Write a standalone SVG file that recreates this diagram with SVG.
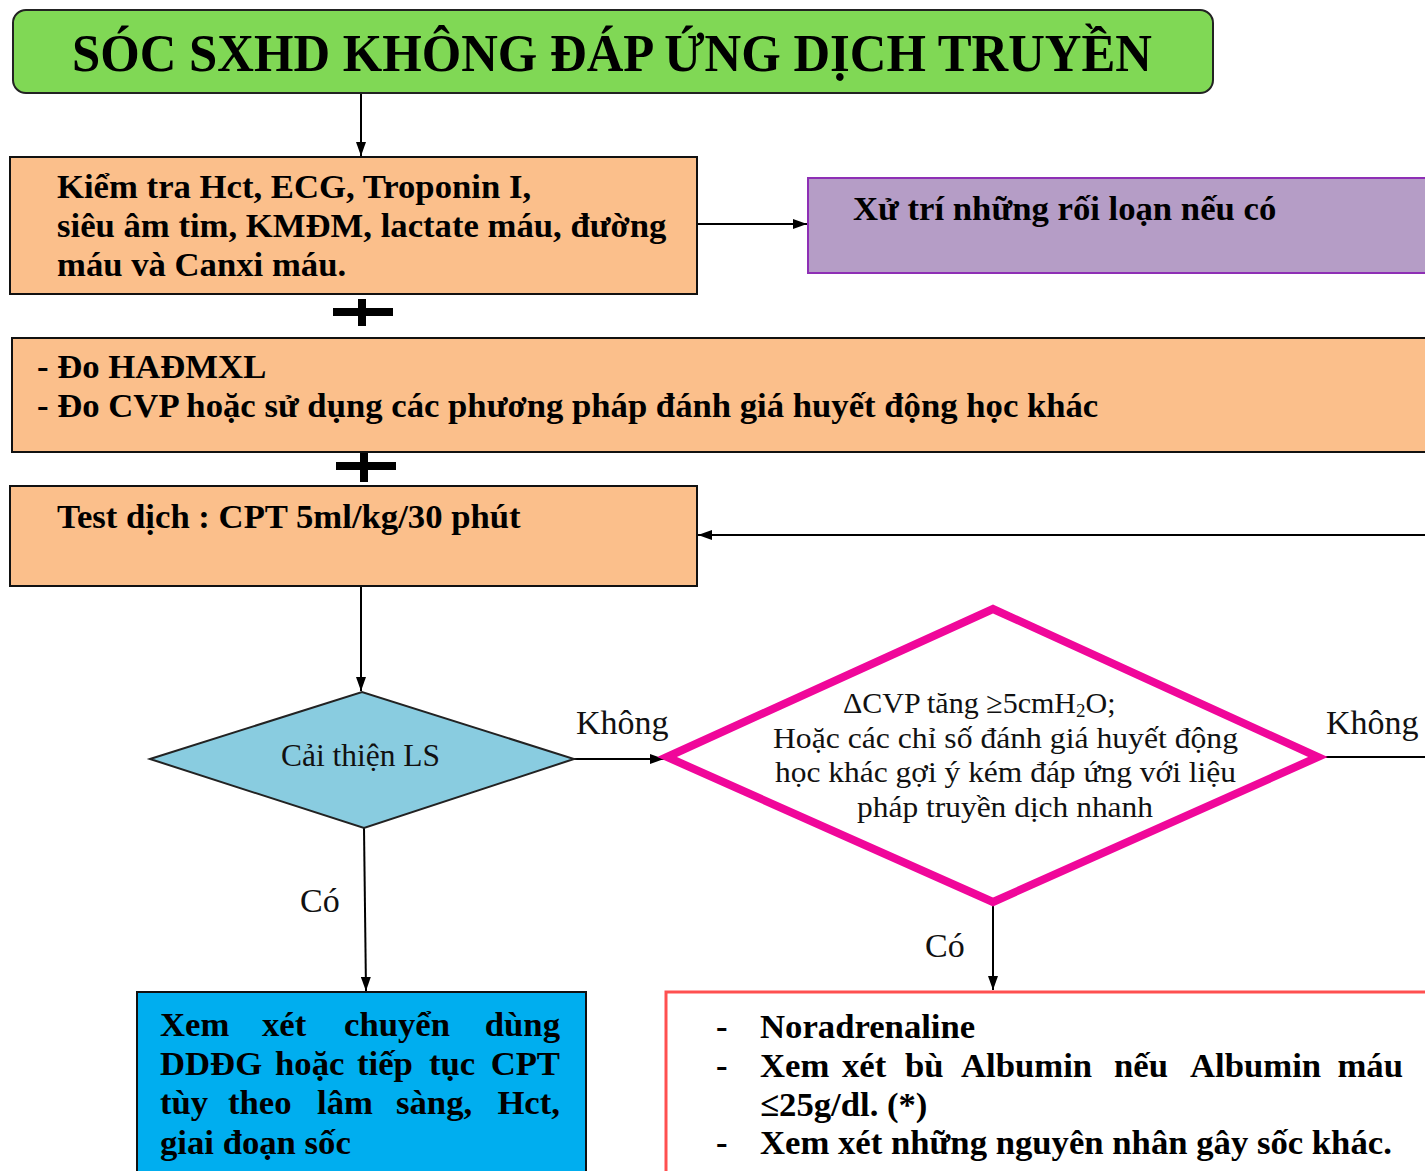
<svg xmlns="http://www.w3.org/2000/svg" width="1425" height="1171" viewBox="0 0 1425 1171">
  <defs>
    <marker id="arrow" viewBox="0 0 14 10" refX="14" refY="5" markerWidth="14" markerHeight="10" markerUnits="userSpaceOnUse" orient="auto">
      <path d="M0,0 L14,5 L0,10 z" fill="#000"/>
    </marker>
    <style>
      .b { font-family: "Liberation Serif", "Times New Roman", serif; font-weight: bold; fill: #000; font-size: 34.7px; }
      .n { font-family: "Liberation Serif", "Times New Roman", serif; fill: #111; }
      .lbl { font-size: 34px; }
      .end { text-anchor: end; }
      .line { stroke: #000; stroke-width: 2; fill: none; }
      .box { stroke: #111; stroke-width: 2; }
    </style>
  </defs>

  <rect width="1425" height="1171" fill="#fff"/>

  <!-- connectors -->
  <g id="connectors">
    <line class="line" x1="361" y1="93" x2="361" y2="156" marker-end="url(#arrow)"/>
    <line class="line" x1="697" y1="224" x2="807" y2="224" marker-end="url(#arrow)"/>
    <line class="line" x1="1425" y1="535" x2="698" y2="535" marker-end="url(#arrow)"/>
    <line class="line" x1="361" y1="586" x2="361" y2="691" marker-end="url(#arrow)"/>
    <line class="line" x1="574" y1="759" x2="664" y2="759" marker-end="url(#arrow)"/>
    <line class="line" x1="1322" y1="757" x2="1425" y2="757"/>
    <line class="line" x1="364" y1="828" x2="366" y2="991" marker-end="url(#arrow)"/>
    <line class="line" x1="993" y1="905" x2="993" y2="990" marker-end="url(#arrow)"/>
    <!-- plus signs joining the test boxes -->
    <g fill="#000">
      <rect x="333" y="308" width="60" height="8"/>
      <rect x="358" y="299" width="8" height="27"/>
      <rect x="336" y="462" width="60" height="8"/>
      <rect x="360" y="452" width="8" height="30"/>
    </g>
    <text class="n lbl" x="576" y="734">Không</text>
    <text class="n lbl" x="1326" y="734">Không</text>
    <text class="n lbl" x="300" y="912">Có</text>
    <text class="n lbl" x="925" y="957">Có</text>
  </g>

  <!-- title -->
  <g id="title">
    <rect x="13" y="10" width="1200" height="83" rx="13" fill="#80d855" stroke="#222" stroke-width="2"/>
    <text class="b" x="72" y="71" style="font-size:52px" textLength="1080" lengthAdjust="spacingAndGlyphs">SÓC SXHD KHÔNG ĐÁP ỨNG DỊCH TRUYỀN</text>
  </g>

  <!-- lab checks -->
  <g id="checks">
    <rect class="box" x="10" y="157" width="687" height="137" fill="#fbbf8b"/>
    <text class="b">
      <tspan x="57" y="198">Kiểm tra Hct, ECG, Troponin I,</tspan>
      <tspan x="57" y="237">siêu âm tim, KMĐM, lactate máu, đường</tspan>
      <tspan x="57" y="276">máu và Canxi máu.</tspan>
    </text>
  </g>

  <!-- disorders -->
  <g id="disorders">
    <rect x="808" y="178" width="630" height="95" fill="#b59dc6" stroke="#8e2fb5" stroke-width="2"/>
    <text class="b" x="853" y="220">Xử trí những rối loạn nếu có</text>
  </g>

  <!-- monitoring -->
  <g id="monitoring">
    <rect class="box" x="12" y="338" width="1430" height="114" fill="#fbbf8b"/>
    <text class="b">
      <tspan x="37" y="378">- Đo HAĐMXL</tspan>
      <tspan x="37" y="417">- Đo CVP hoặc sử dụng các phương pháp đánh giá huyết động học khác</tspan>
    </text>
  </g>

  <!-- fluid test -->
  <g id="fluid-test">
    <rect class="box" x="10" y="486" width="687" height="100" fill="#fbbf8b"/>
    <text class="b" x="57" y="528">Test dịch : CPT 5ml/kg/30 phút</text>
  </g>

  <!-- decision: clinical improvement -->
  <g id="improved">
    <polygon points="150,759 362,692 574,759 364,828" fill="#89cce0" stroke="#222" stroke-width="2"/>
    <text class="n" x="281" y="766" font-size="31" textLength="159" lengthAdjust="spacingAndGlyphs">Cải thiện LS</text>
  </g>

  <!-- decision: CVP response -->
  <g id="cvp">
    <polygon points="667,757 993,609 1318,757 993,902" fill="#fff" stroke="#f0079a" stroke-width="8" stroke-linejoin="miter"/>
    <text class="n" font-size="30">
      <tspan x="843" y="713">ΔCVP tăng ≥5cmH<tspan font-size="19" dy="4">2</tspan><tspan dy="-4">O;</tspan></tspan>
      <tspan x="773" y="748" textLength="465" lengthAdjust="spacingAndGlyphs">Hoặc các chỉ số đánh giá huyết động</tspan>
      <tspan x="775" y="782" textLength="461" lengthAdjust="spacingAndGlyphs">học khác gợi ý kém đáp ứng với liệu</tspan>
      <tspan x="857" y="817" textLength="296" lengthAdjust="spacingAndGlyphs">pháp truyền dịch nhanh</tspan>
    </text>
  </g>

  <!-- outcome: continue (justified, one text per word) -->
  <g id="continue">
    <rect class="box" x="137" y="992" width="449" height="200" fill="#00aeef"/>
    <text class="b" x="160" y="1036">Xem</text>
    <text class="b" x="262" y="1036">xét</text>
    <text class="b" x="344" y="1036">chuyển</text>
    <text class="b end" x="560" y="1036">dùng</text>
    <text class="b" x="160" y="1075">DDĐG</text>
    <text class="b" x="275" y="1075">hoặc</text>
    <text class="b" x="357" y="1075">tiếp</text>
    <text class="b" x="429" y="1075">tục</text>
    <text class="b end" x="560" y="1075">CPT</text>
    <text class="b" x="160" y="1114">tùy</text>
    <text class="b" x="228" y="1114">theo</text>
    <text class="b" x="317" y="1114">lâm</text>
    <text class="b" x="396" y="1114">sàng,</text>
    <text class="b end" x="560" y="1114">Hct,</text>
    <text class="b" x="160" y="1154">giai đoạn sốc</text>
  </g>

  <!-- outcome: vasopressor -->
  <g id="vasopressor">
    <rect x="666" y="992" width="780" height="200" fill="#fff" stroke="#ff5050" stroke-width="3"/>
    <text class="b" x="716" y="1038">-</text>
    <text class="b" x="760" y="1038">Noradrenaline</text>
    <text class="b" x="716" y="1077">-</text>
    <text class="b" x="760" y="1077">Xem</text>
    <text class="b" x="842" y="1077">xét</text>
    <text class="b" x="905" y="1077">bù</text>
    <text class="b" x="961" y="1077">Albumin</text>
    <text class="b" x="1114" y="1077">nếu</text>
    <text class="b" x="1190" y="1077">Albumin</text>
    <text class="b end" x="1403" y="1077">máu</text>
    <text class="b" x="760" y="1116">≤25g/dl. (*)</text>
    <text class="b" x="716" y="1154">-</text>
    <text class="b" x="760" y="1154">Xem xét những nguyên nhân gây sốc khác.</text>
  </g>
</svg>
